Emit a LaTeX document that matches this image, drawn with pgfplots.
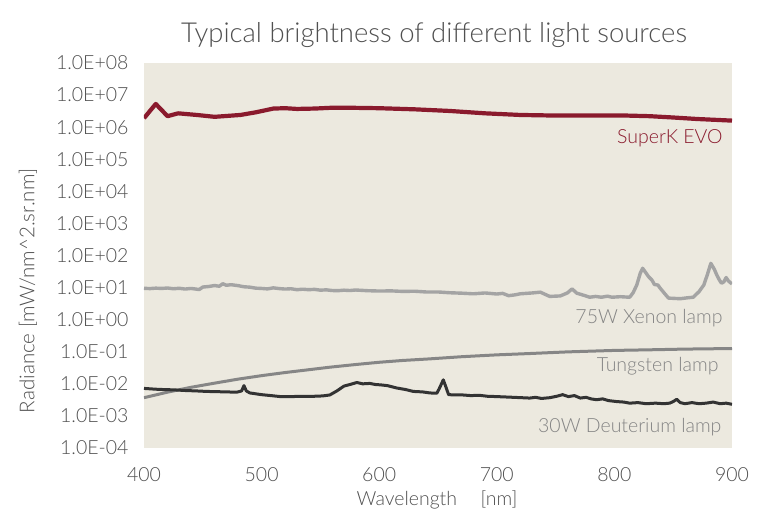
\documentclass[border=0pt]{standalone}
\usepackage{pgfplots}
\pgfplotsset{compat=1.18}
\usepackage{fontspec}
\setmainfont{Lato}[UprightFont=* Light, BoldFont=* Bold]
\definecolor{bgc}{HTML}{ECE9DF}
\definecolor{superk}{HTML}{8A1A2D}
\definecolor{xenon}{HTML}{A4A4A4}
\definecolor{tung}{HTML}{868686}
\definecolor{deut}{HTML}{333333}
\definecolor{txt}{HTML}{505050}
\definecolor{lbl}{HTML}{848484}
\begin{document}
\begin{tikzpicture}
\path[use as bounding box] (-144pt,-79pt) rectangle (624pt,448pt);
\begin{axis}[
  at={(0pt,0pt)}, anchor=south west,
  width=588pt, height=385pt, scale only axis,
  xmin=400, xmax=900, ymode=log, ymin=1e-4, ymax=1e8,
  axis background/.style={fill=bgc},
  axis line style={draw=none},
  tick style={draw=none},
  xtick={400,500,600,700,800,900},
  ytick={1e-4,1e-3,1e-2,1e-1,1e0,1e1,1e2,1e3,1e4,1e5,1e6,1e7,1e8},
  yticklabels={1.0E-04,1.0E-03,1.0E-02,1.0E-01,1.0E+00,1.0E+01,1.0E+02,1.0E+03,1.0E+04,1.0E+05,1.0E+06,1.0E+07,1.0E+08},
  xticklabels={400,500,600,700,800,900},
  yticklabel style={font=\fontsize{19.5}{21}\selectfont, text=txt, anchor=east, xshift=-12pt},
  xticklabel style={font=\fontsize{19.5}{21}\selectfont, text=txt, anchor=north, yshift=-16pt},
  clip=true,
]
% SuperK EVO
\addplot[superk, line width=4.2pt, line join=round] coordinates {
(400,1.9e6) (410,5.3e6) (420,2.2e6) (429,2.7e6) (445,2.4e6) (460,2.1e6) (482,2.4e6) (495,2.9e6) (510,3.8e6) (520,3.9e6) (530,3.7e6) (545,3.8e6) (558,4.0e6) (580,4.0e6) (600,3.9e6) (630,3.6e6) (660,3.2e6) (690,2.7e6) (720,2.4e6) (750,2.3e6) (780,2.3e6) (810,2.3e6) (830,2.2e6) (850,2.0e6) (870,1.8e6) (900,1.6e6)
};
% 75W Xenon
\addplot[xenon, line width=3.4pt, line join=round] coordinates {
(400,9.5) (405,9.3) (410,9.6) (415,9.4) (420,9.7) (425,9.2) (430,9.5) (435,9.0) (440,9.4) (447,8.7) (450,10.4) (455,10.8) (460,11.6) (464,11.0) (467,13.2) (470,11.8) (474,12.3) (480,11.5) (485,10.6) (490,10.3) (495,9.6) (500,9.4) (505,9.1) (510,9.8) (515,9.3) (520,9.0) (525,9.2) (530,8.6) (535,8.9) (540,8.6) (545,8.8) (550,8.3) (555,8.5) (560,8.1) (565,8.0) (570,8.3) (575,8.1) (580,8.4) (590,8.0) (600,7.8) (610,7.9) (620,7.6) (630,7.7) (640,7.3) (650,7.3) (660,6.9) (670,6.7) (680,6.4) (690,6.8) (700,6.3) (705,6.6) (710,5.6) (715,5.9) (720,6.4) (730,6.8) (737,7.2) (745,5.3) (754,5.5) (760,6.8) (764,9.1) (768,6.7) (775,5.6) (779,5.0) (784,5.3) (789,5.0) (794,5.4) (798,5.0) (805,5.2) (813,5.0) (816,7) (819,12) (822,28) (824,40) (827,28) (829,22) (832,17) (834,12.5) (837,12) (839,9.5) (842,7) (846,4.7) (856,4.5) (862,4.8) (867,5.0) (872,7.5) (876,12) (879,25) (882,57) (885,37) (887,25) (889,18) (891,13.7) (893,15) (895,20.5) (897,16) (900,13)
};
% Tungsten
\addplot[tung, line width=3pt] coordinates {
(400,0.0037) (420,0.0055) (440,0.0078) (460,0.0105) (480,0.0140) (500,0.0180) (520,0.0225) (540,0.0275) (558,0.0330) (580,0.0400) (600,0.0470) (620,0.0535) (643,0.0600) (670,0.0700) (700,0.0800) (728,0.0880) (760,0.0990) (800,0.1100) (830,0.1150) (860,0.1210) (900,0.1260)
};
% 30W Deuterium
\addplot[deut, line width=3pt, line join=round] coordinates {
(400,0.0072) (410,0.0068) (418,0.0066) (425,0.0065) (435,0.0062) (445,0.0060) (453,0.0058) (462,0.0057) (470,0.0056) (479,0.0055) (483,0.0060) (485,0.0088) (487,0.0060) (490,0.0052) (500,0.0046) (508,0.0043) (516,0.0040) (525,0.0040) (535,0.0041) (545,0.0041) (552,0.0042) (558,0.0045) (564,0.0060) (570,0.0085) (575,0.0095) (581,0.0110) (586,0.0100) (592,0.0103) (597,0.0095) (601,0.0093) (607,0.0088) (615,0.0074) (622,0.0067) (629,0.0058) (637,0.0056) (643,0.0052) (649,0.0051) (651,0.0070) (654.5,0.0133) (657,0.0075) (659,0.0046) (665,0.0045) (671,0.0045) (678,0.0043) (685,0.0044) (692,0.0041) (700,0.0040) (707,0.0039) (714,0.0038) (721,0.0037) (728,0.0036) (733,0.0038) (738,0.0035) (745,0.0037) (751,0.0041) (756,0.0046) (761,0.0040) (766,0.0043) (771,0.0036) (776,0.0038) (780,0.0034) (785,0.0032) (790,0.0034) (795,0.0030) (802,0.0028) (808,0.0027) (813,0.0025) (820,0.0026) (827,0.0024) (835,0.0025) (842,0.0024) (847,0.0025) (850,0.0028) (853,0.0033) (856,0.0026) (860,0.0024) (866,0.0026) (872,0.0024) (878,0.0025) (884,0.0027) (890,0.0024) (895,0.0025) (900,0.0023)
};
\node[anchor=east, text=superk, font=\fontsize{19.5}{21}\selectfont] at (axis cs:895,4.6e5) {SuperK EVO};
\node[anchor=east, text=lbl, font=\fontsize{19.5}{21}\selectfont] at (axis cs:895,1.14) {75W Xenon lamp};
\node[anchor=east, text=lbl, font=\fontsize{19.5}{21}\selectfont] at (axis cs:891.5,0.036) {Tungsten lamp};
\node[anchor=east, text=lbl, font=\fontsize{19.5}{21}\selectfont] at (axis cs:894,4.6e-4) {30W Deuterium lamp};
\end{axis}
\node[text=txt, font=\fontsize{27.5}{30}\selectfont] at (290pt,413pt) {Typical brightness of different light sources};
\node[text=txt, font=\fontsize{19.5}{21}\selectfont] at (293pt,-52pt) {Wavelength\hspace{1.2em}[nm]};
\node[text=txt, rotate=90, font=\fontsize{20.5}{22}\selectfont] at (-116pt,157pt) {Radiance [mW/nm\textasciicircum 2.sr.nm]};
\end{tikzpicture}
\end{document}
